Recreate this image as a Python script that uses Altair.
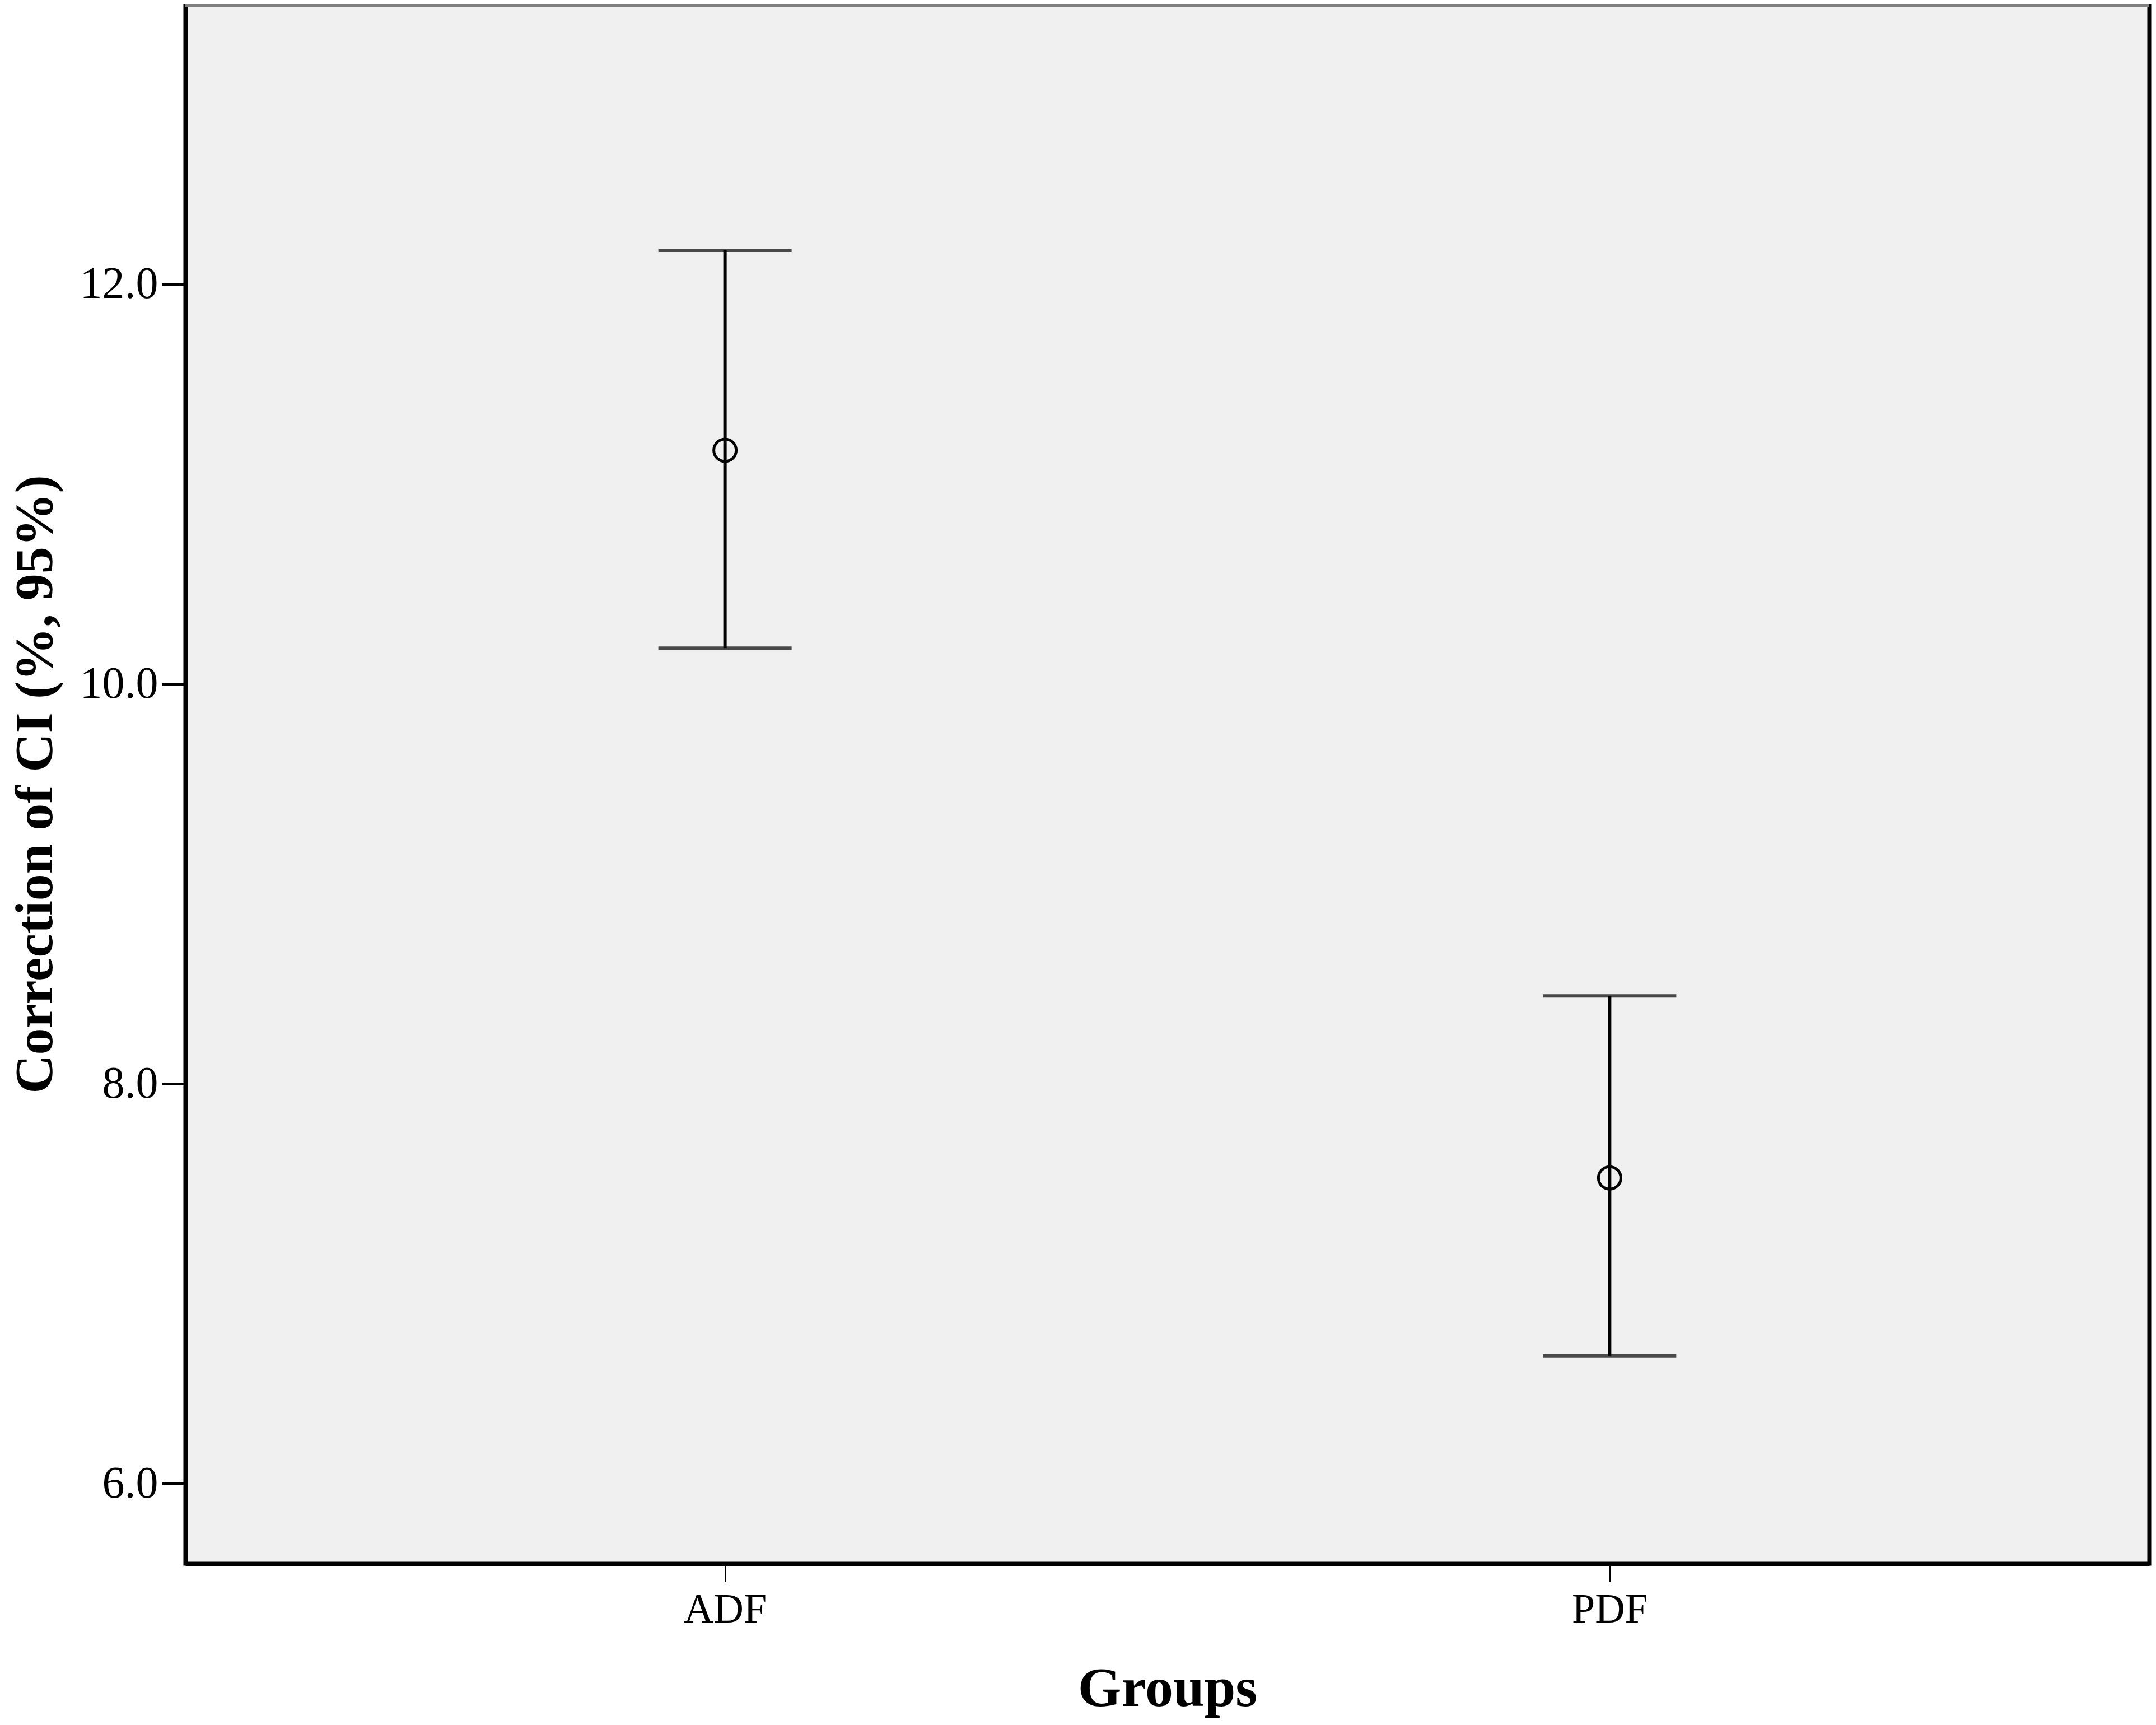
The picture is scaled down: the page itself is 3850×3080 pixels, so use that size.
import altair as alt
import pandas as pd

groups = ["ADF", "PDF"]
means = [11.17, 7.53]
lower = [10.18, 6.64]
upper = [12.17, 8.44]
y_ticks = [6.0, 8.0, 10.0, 12.0]

df = pd.DataFrame({"group": groups, "mean": means, "lower": lower, "upper": upper})

FONT = "Liberation Serif"

x_enc = alt.X(
    "group:N",
    scale=alt.Scale(type="point", padding=0.61, domain=groups),
    axis=alt.Axis(
        title="Groups", titleFont=FONT, titleFontSize=100, titleFontWeight="bold",
        titleColor="black", titleY=223, titleBaseline="middle",
        labelFont=FONT, labelFontSize=74, labelColor="black", labelAngle=0,
        labelPadding=14, tickSize=32, tickWidth=3, tickColor="black",
        domainColor="black", domainWidth=7,
    ),
)
y_scale = alt.Scale(domain=[5.6, 13.4], nice=False, zero=False)
y_axis = alt.Axis(
    title="Correction of CI (%, 95%)", titleFont=FONT, titleFontSize=96,
    titleFontWeight="bold", titleColor="black", titleX=-268, titleBaseline="middle",
    titleAngle=270,
    values=y_ticks, format=".1f", labelFont=FONT, labelFontSize=80, labelColor="black",
    labelPadding=7, tickSize=42, tickWidth=5, tickColor="black",
    domainColor="black", domainWidth=7, grid=False,
)

base = alt.Chart(df)

bars = base.mark_rule(color="black", strokeWidth=6).encode(
    x=x_enc,
    y=alt.Y("lower:Q", scale=y_scale, axis=y_axis),
    y2="upper:Q",
)
cap_hi = base.mark_tick(color="black", size=238, thickness=6, orient="horizontal").encode(
    x="group:N", y="upper:Q"
)
cap_lo = base.mark_tick(color="black", size=238, thickness=6, orient="horizontal").encode(
    x="group:N", y="lower:Q"
)
pts = base.mark_point(shape="circle", filled=False, size=1600, strokeWidth=5,
                      color="black", opacity=1).encode(x="group:N", y="mean:Q")
top_border = base.mark_rule(color="#7f7f7f", strokeWidth=8).encode(y=alt.value(0))

chart = (
    alt.layer(bars, cap_hi, cap_lo, pts, top_border)
    .properties(
        width=3507, height=2784,
        autosize=alt.AutoSizeParams(type="none"),
        padding={"left": 323, "top": 0, "right": 4, "bottom": 280},
        background="white",
    )
    .configure_view(fill="#f0f0f0", stroke="black", strokeWidth=7)
)

chart.save("out.html", embed_options={"renderer": "svg", "actions": False})
